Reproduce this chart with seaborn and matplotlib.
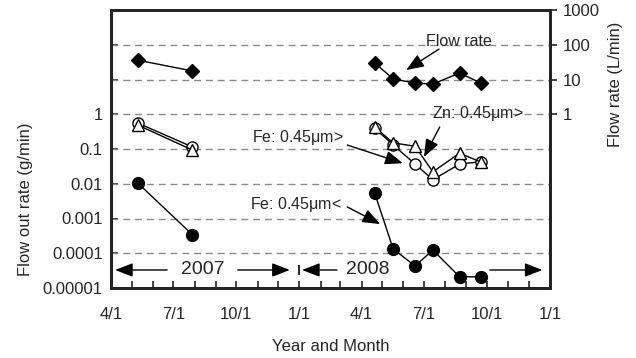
import numpy as np
import pandas as pd
import matplotlib
matplotlib.use("Agg")
import matplotlib.pyplot as plt
import matplotlib.dates as mdates
import matplotlib.ticker as mticker
import seaborn as sns

# ---- data ----
dates_2007 = ["2007-05-10", "2007-07-29"]
dates_2008 = ["2008-04-20", "2008-05-17", "2008-06-18", "2008-07-14", "2008-08-22", "2008-09-22"]

flow_2007 = [36, 17.6]
flow_2008 = [30, 10.4, 7.9, 7.4, 15.4, 7.9]

fe_small_2007 = [0.56, 0.114]          # Fe: 0.45um>  (open circles)
fe_small_2008 = [0.40, 0.13, 0.037, 0.013, 0.037, 0.043]

zn_small_2007 = [0.49, 0.093]          # Zn: 0.45um>  (open triangles)
zn_small_2008 = [0.43, 0.15, 0.12, 0.022, 0.076, 0.042]

fe_large_2007 = [0.0105, 0.00034]      # Fe: 0.45um<  (filled circles)
fe_large_2008 = [0.0054, 0.000133, 4.3e-5, 0.000124, 2.1e-5, 2.1e-5]

left_ticklabels = ["0.00001", "0.0001", "0.001", "0.01", "0.1", "1"]
right_ticks = [1, 10, 100, 1000]
right_ticklabels = ["1", "10", "100", "1000"]
x_ticklabels = ["4/1", "7/1", "10/1", "1/1", "4/1", "7/1", "10/1", "1/1"]

# ---- style ----
sns.set_theme(style="white")
plt.rcParams["font.family"] = ["Liberation Sans", "DejaVu Sans"]
plt.rcParams["mathtext.fontset"] = "custom"

fig = plt.figure(figsize=(6.36, 3.58), dpi=100)
ax = fig.add_axes([111 / 636, 1 - 288 / 358, 439 / 636, 278 / 358])

def seg(dates, vals, marker, mfc, ms):
    df = pd.DataFrame({"date": pd.to_datetime(dates), "val": vals})
    sns.lineplot(data=df, x="date", y="val", ax=ax, estimator=None, sort=False,
                 color="black", lw=1.0, marker=marker, markersize=ms,
                 markerfacecolor=mfc, markeredgecolor="black",
                 markeredgewidth=1.0, zorder=3)

for d, f, fs, zs, fl in [(dates_2007, flow_2007, fe_small_2007, zn_small_2007, fe_large_2007),
                         (dates_2008, flow_2008, fe_small_2008, zn_small_2008, fe_large_2008)]:
    seg(d, f, "D", "black", 7.5)
    seg(d, fs, "o", "white", 8)
    seg(d, zs, "^", "white", 9)
    seg(d, fl, "o", "black", 8.5)

ax.set_yscale("log")
ax.set_ylim(1e-5, 1e3)
ax.set_xlim(pd.Timestamp("2007-04-01"), pd.Timestamp("2009-01-01"))

# grid lines
for g in [1e-4, 1e-3, 1e-2, 1e-1, 1, 10, 100]:
    ax.axhline(g, color="#8a8a8a", lw=1.0, ls=(0, (5, 3.5)), zorder=1)

# left axis ticks
ax.yaxis.set_major_locator(mticker.FixedLocator([1e-5, 1e-4, 1e-3, 1e-2, 1e-1, 1, 10, 100, 1000]))
ax.yaxis.set_minor_locator(mticker.NullLocator())
ax.yaxis.set_major_formatter(mticker.FixedFormatter(left_ticklabels + ["", "", ""]))
ax.tick_params(axis="y", which="major", direction="in", length=5, width=1.2,
               labelsize=12, pad=6, left=True)

# x axis
major = pd.to_datetime(["2007-04-01", "2007-07-01", "2007-10-01", "2008-01-01",
                        "2008-04-01", "2008-07-01", "2008-10-01", "2009-01-01"])
ax.xaxis.set_major_locator(mticker.FixedLocator(mdates.date2num(major)))
ax.xaxis.set_major_formatter(mticker.FixedFormatter(x_ticklabels))
ax.xaxis.set_minor_locator(mdates.MonthLocator())
ax.tick_params(axis="x", which="both", direction="in", length=5, width=1.2,
               labelsize=12, pad=14, bottom=True)
ax.set_xlabel("Year and Month", fontsize=12, labelpad=12)
ax.set_ylabel("")

for s in ax.spines.values():
    s.set_linewidth(2.0)
    s.set_color("black")

# right axis
ax2 = ax.twinx()
ax2.set_yscale("log")
ax2.set_ylim(1e-5, 1e3)
ax2.yaxis.set_major_locator(mticker.FixedLocator(right_ticks))
ax2.yaxis.set_major_formatter(mticker.FixedFormatter(right_ticklabels))
ax2.yaxis.set_minor_locator(mticker.NullLocator())
ax2.tick_params(axis="y", direction="out", length=5, width=1.2, labelsize=12, pad=4)
for s in ax2.spines.values():
    s.set_linewidth(2.0)

fig.text(0.040, 1 - 199 / 358, "Flow out rate (g/min)", rotation=90, fontsize=12,
         ha="center", va="center")
fig.text(0.967, 1 - 84 / 358, "Flow rate (L/min)", rotation=90, fontsize=12,
         ha="center", va="center")

# annotations
T = pd.Timestamp
arrow = dict(arrowstyle="-|>,head_length=0.9,head_width=0.35", color="black", lw=1.0,
             shrinkA=0, shrinkB=0)
ax.text(T("2008-08-21"), 125, "Flow rate", fontsize=11.5, ha="center", va="center")
ax.annotate("", xy=(T("2008-06-05"), 18.7), xytext=(T("2008-07-23"), 75), arrowprops=arrow)
ax.text(T("2008-09-18"), 1.08, r"Zn: 0.45$\mathregular{\mu}$m>", fontsize=11.5,
        ha="center", va="center")
ax.annotate("", xy=(T("2008-07-01"), 0.059), xytext=(T("2008-07-24"), 0.43), arrowprops=arrow)
ax.text(T("2007-12-30"), 0.21, r"Fe: 0.45$\mathregular{\mu}$m>", fontsize=11.5,
        ha="center", va="center")
ax.annotate("", xy=(T("2008-05-31"), 0.039), xytext=(T("2008-03-11"), 0.13), arrowprops=arrow)
ax.text(T("2007-12-27"), 0.00245, r"Fe: 0.45$\mathregular{\mu}$m<", fontsize=11.5,
        ha="center", va="center")
ax.annotate("", xy=(T("2008-04-28"), 0.00069), xytext=(T("2008-03-11"), 0.00215), arrowprops=arrow)

# year band
yb = 3.3e-5
ax.text(T("2007-08-13"), yb, "2007", fontsize=14, ha="center", va="center")
ax.text(T("2008-04-10"), yb, "2008", fontsize=14, ha="center", va="center")
ax.annotate("", xy=(T("2007-04-07"), yb), xytext=(T("2007-06-22"), yb), arrowprops=arrow)
ax.annotate("", xy=(T("2007-12-18"), yb), xytext=(T("2007-10-03"), yb), arrowprops=arrow)
ax.annotate("", xy=(T("2008-01-05"), yb), xytext=(T("2008-02-25"), yb), arrowprops=arrow)
ax.annotate("", xy=(T("2008-12-21"), yb), xytext=(T("2008-10-05"), yb), arrowprops=arrow)
ax.vlines(T("2008-01-01"), 2.4e-5, 4.5e-5, color="black", lw=1.2)

fig.savefig("out.png", dpi=100)
